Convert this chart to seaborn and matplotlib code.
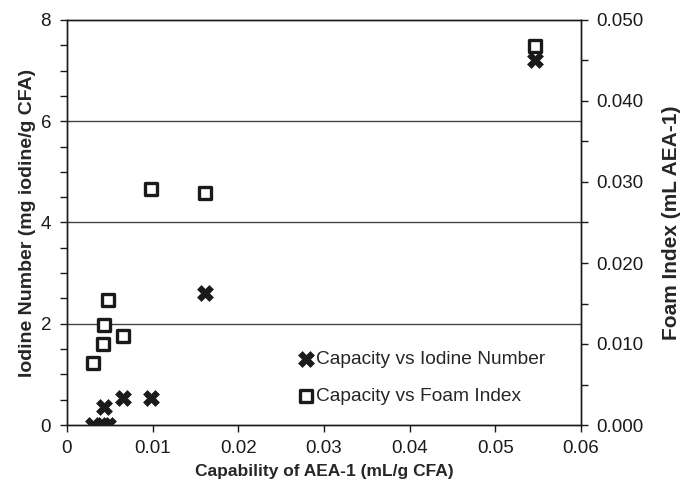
import matplotlib
matplotlib.use("Agg")
import matplotlib.pyplot as plt
import seaborn as sns
import pandas as pd
from matplotlib.ticker import MultipleLocator, FormatStrFormatter

capacity = [0.0030, 0.0042, 0.0043, 0.0048, 0.0065, 0.0098, 0.0161, 0.0546]
iodine_number = [0.0, 0.0, 0.36, 0.0, 0.54, 0.54, 2.61, 7.21]
foam_capacity = [0.0030, 0.0042, 0.0043, 0.0048, 0.0065, 0.0098, 0.0161, 0.0546]
foam_index = [0.0076, 0.0100, 0.0123, 0.0154, 0.0110, 0.0291, 0.0286, 0.0468]

sns.set_style("ticks")
plt.rcParams['font.family'] = ['Liberation Sans', 'DejaVu Sans']

df1 = pd.DataFrame({"x": capacity, "y": iodine_number})
df2 = pd.DataFrame({"x": foam_capacity, "y": foam_index})

fig = plt.figure(figsize=(6.81, 4.90), dpi=100)
ax = fig.add_axes([67/681, 1-425/490, (581-67)/681, (425-20)/490])
ax2 = ax.twinx()

sns.scatterplot(data=df1, x="x", y="y", ax=ax, marker="X", s=130, color="#1a1a1a",
                edgecolor="#1a1a1a", linewidth=0.5, label="Capacity vs Iodine Number", legend=False, zorder=3)
sns.scatterplot(data=df2, x="x", y="y", ax=ax2, marker="s", s=68, facecolor="white",
                edgecolor="#1a1a1a", linewidth=2.4, label="Capacity vs Foam Index", legend=False, zorder=3)

ax.set_xlim(0, 0.06)
ax.set_ylim(0, 8)
ax2.set_ylim(0, 0.05)

ax.xaxis.set_major_locator(MultipleLocator(0.01))
ax.xaxis.set_major_formatter(plt.FuncFormatter(lambda v, p: "0" if abs(v) < 1e-12 else f"{v:g}"))
ax.yaxis.set_major_locator(MultipleLocator(2))
ax.yaxis.set_minor_locator(MultipleLocator(0.5))
ax2.yaxis.set_major_locator(MultipleLocator(0.01))
ax2.yaxis.set_minor_locator(MultipleLocator(0.005))
ax2.yaxis.set_major_formatter(FormatStrFormatter("%.3f"))

for a in (ax, ax2):
    for s in a.spines.values():
        s.set_color("#1a1a1a")
        s.set_linewidth(1.0)
ax.tick_params(axis="x", which="major", labelsize=13.5, colors="#1a1a1a", length=5, width=1, direction="out", pad=6)
ax.tick_params(axis="y", which="major", labelsize=13.5, colors="#1a1a1a", length=5, width=1, direction="out", pad=6.5)
ax.tick_params(axis="y", which="minor", length=5, width=1, direction="out", color="#1a1a1a")
ax2.tick_params(axis="y", which="major", labelsize=13.5, colors="#1a1a1a", length=5, width=1, direction="out", pad=6)
ax2.tick_params(axis="y", which="minor", length=5, width=1, direction="out", color="#1a1a1a")

ax.grid(False)
ax2.grid(False)
for g in (2, 4, 6):
    ax.axhline(g, color="#444444", linewidth=1.0, zorder=1)

ax.set_xlabel("Capability of AEA-1 (mL/g CFA)", fontsize=12.5, fontweight="bold", labelpad=5)
ax.set_ylabel("Iodine Number (mg iodine/g CFA)", fontsize=14, fontweight="bold", labelpad=3)
ax2.set_ylabel("Foam Index (mL AEA-1)", fontsize=15, fontweight="bold", labelpad=13)

h1, l1 = ax.get_legend_handles_labels()
h2, l2 = ax2.get_legend_handles_labels()
leg = ax2.legend(h1 + h2, l1 + l2, loc="center left", bbox_to_anchor=(279/681, 1-378/490),
                 bbox_transform=fig.transFigure, frameon=False, fontsize=13.8,
                 handletextpad=0.05, labelspacing=1.0, handlelength=1.0, markerscale=1.0)

fig.savefig("out.png", dpi=100)
